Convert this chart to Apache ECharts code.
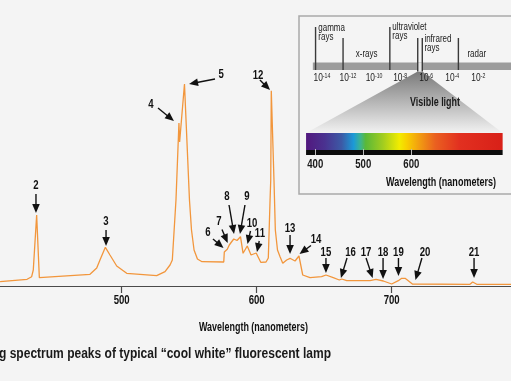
<!DOCTYPE html>
<html><head><meta charset="utf-8">
<script src="https://cdn.jsdelivr.net/npm/echarts@6/dist/echarts.min.js"></script>
<style>html,body{margin:0;padding:0;background:#f4f4f4}#c{width:511px;height:381px}</style>
</head><body><div id="c"></div>
<script>
// ---- spectrum (wavelength nm, relative intensity) ----
const wavelengths = [409.9,429.9,433.3,434.5,437.0,439.0,476.5,481.5,483.9,487.9,491.3,496.3,503.7,525.9,532.1,535.8,537.5,540.2,542.4,542.9,546.5,550.2,551.7,553.6,556.1,559.5,575.6,576.0,578.2,579.7,581.3,583.0,585.4,588.0,589.9,593.0,595.8,599.6,603.0,606.9,608.6,609.9,610.4,610.8,612.8,613.8,615.4,617.3,619.3,622.2,624.7,628.4,631.3,634.1,639.5,648.1,651.3,656.7,661.2,663.0,666.7,683.9,688.4,693.8,700.0,704.9,707.4,709.9,711.6,713.0,715.3,758.0,760.0,763.0,788.4];
const intensity   = [4.3,6.7,9.3,16,71,8.3,11.7,18,26,38.7,31,20,12.7,10.3,14.3,21,26,86,163,144,202,86,56,36,27,24.3,24,34,36.7,41,44,47,45.5,49.3,32.7,40,31,33,23.7,24,28,86,106,195.3,106,56,36,29.3,22.7,26,27.7,25,30,11,8.3,9.3,11,8.3,6,7,5.3,5.3,6.7,5,2,5.3,7.7,7.7,6,6,2,1.7,4,1.7,1.7];
const mainTicks = [500,600,700];
const mainAxisName = 'Wavelength (nanometers)';
const captionText = 'g spectrum peaks of typical \u201ccool white\u201d fluorescent lamp';

// ---- numbered peaks: tip, arrow tail, label (data coords) ----
const peakNames  = ['2','3','4','5','12','6','7','8','9','10','11','13','14','15','16','17','18','19','20','21'];
const peakTips   = [[436.5,73],[488.4,40],[538.7,165],[549.9,202],[609.9,196],[575.4,38],[578.5,43],[583.2,52],[587.6,52],[593.2,42],[600.2,34],[624.7,32],[631.7,32],[651.3,13],[662.4,8],[685.9,8],[693.6,7],[705.0,10],[717.6,6],[761.0,8]];
const arrowTails = [[436.5,92],[488.4,56],[526.9,178],[569.1,207],[602.4,206],[567.6,47],[574.3,56.5],[579.5,81],[591.3,81],[595.4,55],[601.9,45],[624.7,51],[640.2,40.5],[651.3,28],[666.9,28],[681.0,28],[693.6,28],[705.0,28],[722.4,28],[761.0,28]];
const labelAt    = [[436.5,100],[488.4,64],[521.7,181],[573.6,211],[601.0,210],[563.9,53],[572.1,64],[578.0,89],[592.8,89],[596.5,62],[602.4,52],[624.7,57],[643.9,46],[651.3,33.5],[669.5,33.5],[681.0,33.5],[693.6,33.5],[705.0,33.5],[724.7,33.5],[761.0,33.5]];

// ---- inset: electromagnetic spectrum (log10 of wavelength in m) ----
const emExponents = [-14,-12,-10,-8,-6,-4,-2];
const emBand = [-14.7, 1.0];
const emDividers = [-14.49,-12.38,-8.79,-6.65,-6.30,-3.53];
const emDividerTall = [1,0,1,0,0,0];
const emRegionNames = ['gamma\nrays','x-rays','ultraviolet\nrays','infrared\nrays','radar'];
const emRegionAt = [-14.28,-10.57,-8.6,-6.14,-2.12];
const visibleWindow = [-6.65,-6.30];

// ---- inset: visible light bar (nm) ----
const visibleTicks = [400,500,600];
const visibleAxisName = 'Wavelength (nanometers)';
const rainbowRange = [380.9, 790];
const rainbowNm     = [381,420,455,480,495,505,540,575,590,615,650,700,790];
const rainbowColors = ['#52187e','#4a3290','#3c5aa6','#1b9ad8','#3fb58a','#5ab838','#a0cc20','#f2ec00','#f8d000','#f2a010','#ea6020','#e23020','#d82018'];

const FONT = '"Liberation Sans", Arial, sans-serif';
const INK = '#111111';
const NARROW = 0.8;
const emLayout = {bandH: 7.5, tallH: 43, shortH: 32, regionDy: [-46.5, -20.5, -47, -35, -20.5], regionAlign: ['left','center','left','left','center']};

const mctx = document.createElement('canvas').getContext('2d');
function fitScale(text, font, target) { mctx.font = font; return target / mctx.measureText(text).width; }

function labelSeries(xi, values, dy, font, color) {
  return {type: 'custom', xAxisIndex: xi, yAxisIndex: xi, z: 6, clip: false, silent: true,
    data: values.map(v => [v, 0]), encode: {x: 0, y: 1},
    renderItem(params, api) {
      const p = api.coord([api.value(0), 0]);
      return {type: 'text', x: p[0], y: p[1] + dy, scaleX: NARROW,
        style: {text: String(api.value(0)), font: font, fill: color, align: 'center', verticalAlign: 'middle'}};
    }};
}

const chart = echarts.init(document.getElementById('c'));

const capFont = 'bold 14px ' + FONT;
const nameFont = 'bold 12px ' + FONT;
const visFont = 'bold 12px ' + FONT;
const numFont = 'bold 12px ' + FONT;

const option = {
  backgroundColor: '#f4f4f4',
  animation: false,
  grid: [
    {left: 0, top: 66, width: 511, height: 220},
    {left: 299, top: 20, width: 231, height: 50},
    {left: 299, top: 133, width: 300, height: 22}
  ],
  xAxis: [
    {gridIndex: 0, type: 'value', min: 409.85, max: 788.37,
     axisLine: {onZero: false, lineStyle: {color: '#4a4a4a', width: 1.2}},
     axisTick: {customValues: mainTicks, length: 7, lineStyle: {color: '#4a4a4a', width: 1.2}},
     axisLabel: {show: false}, splitLine: {show: false}},
    {gridIndex: 1, type: 'value', min: -15.761, max: 0.507,
     axisLine: {show: false}, axisTick: {show: false}, splitLine: {show: false}, axisLabel: {show: false}},
    {gridIndex: 2, type: 'value', min: 366.2, max: 807.4, z: 10,
     axisLine: {show: false}, splitLine: {show: false}, axisLabel: {show: false},
     axisTick: {customValues: visibleTicks, inside: true, length: 6, lineStyle: {color: '#bbbbbb', width: 1}}}
  ],
  yAxis: [
    {gridIndex: 0, type: 'value', min: 0, max: 220, show: false},
    {gridIndex: 1, type: 'value', min: 0, max: 1, show: false},
    {gridIndex: 2, type: 'value', min: 0, max: 1, show: false}
  ],
  series: [
    {type: 'line', xAxisIndex: 0, yAxisIndex: 0, z: 3, showSymbol: false, silent: true,
     data: wavelengths.map((w, i) => [w, intensity[i]]),
     lineStyle: {color: '#f2963c', width: 1.3}},
    {type: 'custom', xAxisIndex: 0, yAxisIndex: 0, z: 4, clip: false, silent: true,
     data: peakTips, encode: {x: 0, y: 1},
     renderItem(params, api) {
       const i = params.dataIndex;
       const tip = api.coord(peakTips[i]);
       const tail = api.coord(arrowTails[i]);
       const lp = api.coord(labelAt[i]);
       const dx = tip[0] - tail[0], dy = tip[1] - tail[1];
       const L = Math.hypot(dx, dy) || 1, ux = dx / L, uy = dy / L;
       const hl = 9, hw = 3.8;
       const bx = tip[0] - ux * hl, by = tip[1] - uy * hl;
       return {type: 'group', children: [
         {type: 'line', shape: {x1: tail[0], y1: tail[1], x2: bx + ux, y2: by + uy}, style: {stroke: INK, lineWidth: 1.4}},
         {type: 'polygon', shape: {points: [tip, [bx - uy * hw, by + ux * hw], [bx + uy * hw, by - ux * hw]]}, style: {fill: INK}},
         {type: 'text', x: lp[0], y: lp[1], scaleX: NARROW, style: {text: peakNames[i], fill: INK, font: numFont, align: 'center', verticalAlign: 'middle'}}
       ]};
     }},
    labelSeries(0, mainTicks, 15, numFont, INK),
    {type: 'custom', xAxisIndex: 1, yAxisIndex: 1, z: 4, clip: false, silent: true,
     data: [[emBand[0], 0]], encode: {x: 0, y: 1},
     renderItem(params, api) {
       const ch = [];
       const a = api.coord([emBand[0], 0]), b = api.coord([emBand[1], 0]);
       const base = a[1];
       ch.push({type: 'rect', shape: {x: a[0], y: base - emLayout.bandH, width: b[0] - a[0], height: emLayout.bandH}, style: {fill: '#9c9c9c'}});
       const w0 = api.coord([visibleWindow[0], 0])[0], w1 = api.coord([visibleWindow[1], 0])[0];
       ch.push({type: 'rect', shape: {x: w0, y: base - emLayout.bandH, width: w1 - w0, height: emLayout.bandH + 1.5}, style: {fill: '#e6e6e6'}});
       emDividers.forEach((e, i) => {
         const x = api.coord([e, 0])[0];
         const h = emDividerTall[i] ? emLayout.tallH : emLayout.shortH;
         const extra = (e === visibleWindow[0] || e === visibleWindow[1]) ? 1.5 : 0;
         ch.push({type: 'line', shape: {x1: x, y1: base - h, x2: x, y2: base + extra}, style: {stroke: '#3a3a3a', lineWidth: 1.4}});
       });
       emRegionNames.forEach((n, i) => {
         const x = api.coord([emRegionAt[i], 0])[0];
         ch.push({type: 'text', x: x, y: base + emLayout.regionDy[i], scaleX: 0.8,
           style: {text: n, fill: '#1a1a1a', font: '10px ' + FONT, lineHeight: 9, align: emLayout.regionAlign[i], verticalAlign: 'top'}});
       });
       emExponents.forEach(e => {
         const p = api.coord([e, 0]);
         ch.push({type: 'text', x: p[0], y: p[1] + 8, scaleX: 0.8, z2: 5,
           style: {text: '{a|10}{b|' + e + '}', align: 'center', verticalAlign: 'middle',
             rich: {a: {fontSize: 10.5, fontFamily: FONT, fill: '#1a1a1a'},
                    b: {fontSize: 6.5, fontFamily: FONT, fill: '#1a1a1a', verticalAlign: 'top'}}}});
       });
       return {type: 'group', children: ch};
     }},
    {type: 'custom', xAxisIndex: 2, yAxisIndex: 2, z: 4, clip: false, silent: true,
     data: [[rainbowRange[0], 0]], encode: {x: 0, y: 1},
     renderItem(params, api) {
       const p0 = api.coord([rainbowRange[0], 1]), p1 = api.coord([rainbowRange[1], 0]);
       const span = rainbowRange[1] - rainbowRange[0];
       const stops = rainbowNm.map((nm, i) => ({offset: Math.min(1, Math.max(0, (nm - rainbowRange[0]) / span)), color: rainbowColors[i]}));
       const h = p1[1] - p0[1];
       return {type: 'group', children: [
         {type: 'rect', shape: {x: p0[0], y: p0[1], width: p1[0] - p0[0], height: h - 5}, style: {fill: {type: 'linear', x: 0, y: 0, x2: 1, y2: 0, colorStops: stops}}},
         {type: 'rect', shape: {x: p0[0], y: p1[1] - 5, width: p1[0] - p0[0], height: 5}, style: {fill: '#0c0c0c'}}
       ]};
     }},
    labelSeries(2, visibleTicks, 9.5, numFont, '#1a1a1a')
  ],
  graphic: [
    {id: 'box', type: 'rect', z: 0, silent: true, shape: {x: 299, y: 16, width: 240, height: 178}, style: {fill: 'none', stroke: '#a9a9a9', lineWidth: 1.5}},
    {id: 'vis', type: 'text', z: 20, x: 435, y: 103, scaleX: fitScale('Visible light', visFont, 50),
     style: {text: 'Visible light', font: visFont, fill: '#1a1a1a', align: 'center', verticalAlign: 'middle'}},
    {id: 'vname', type: 'text', z: 20, x: 441, y: 183, scaleX: fitScale(visibleAxisName, nameFont, 110),
     style: {text: visibleAxisName, font: nameFont, fill: INK, align: 'center', verticalAlign: 'middle'}},
    {id: 'mname', type: 'text', z: 20, x: 253.5, y: 328, scaleX: fitScale(mainAxisName, nameFont, 109),
     style: {text: mainAxisName, font: nameFont, fill: INK, align: 'center', verticalAlign: 'middle'}},
    {id: 'cap', type: 'text', z: 20, x: -1, y: 354, scaleX: fitScale(captionText, capFont, 332),
     style: {text: captionText, font: capFont, fill: '#1a1a1a', align: 'left', verticalAlign: 'middle'}}
  ]
};
chart.setOption(option);

// light cone from the visible window of the EM bar to the rainbow bar
const t1 = chart.convertToPixel({gridIndex: 1}, [visibleWindow[0], 0]);
const t2 = chart.convertToPixel({gridIndex: 1}, [visibleWindow[1], 0]);
const b1 = chart.convertToPixel({gridIndex: 2}, [rainbowRange[0], 1]);
const b2 = chart.convertToPixel({gridIndex: 2}, [rainbowRange[1], 1]);
chart.setOption({graphic: [{id: 'cone', type: 'polygon', z: 1, silent: true,
  shape: {points: [[t1[0], t1[1] + 1.5], [t2[0], t2[1] + 1.5], [b2[0], b2[1]], [b1[0], b1[1]]]},
  style: {fill: {type: 'linear', x: 0, y: 0, x2: 0, y2: 1, colorStops: [{offset: 0, color: '#7a7a7a'}, {offset: 1, color: '#f2f2f2'}]}}}]});
</script></body></html>
